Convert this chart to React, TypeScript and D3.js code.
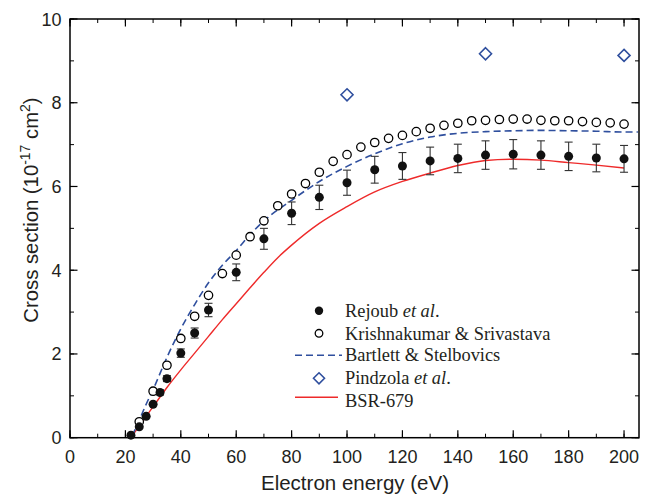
import React from "react";
import * as d3 from "d3";

const rejoubX = [22, 25, 27.5, 30, 32.5, 35, 40, 45, 50, 60, 70, 80, 90, 100, 110, 120, 130, 140, 150, 160, 170, 180, 190, 200];
const rejoubY = [0.06, 0.26, 0.51, 0.8, 1.08, 1.41, 2.02, 2.5, 3.05, 3.95, 4.75, 5.36, 5.74, 6.09, 6.4, 6.49, 6.61, 6.67, 6.75, 6.77, 6.75, 6.72, 6.68, 6.66];
const rejoubErr = [0.02, 0.03, 0.04, 0.05, 0.06, 0.07, 0.1, 0.12, 0.16, 0.2, 0.25, 0.27, 0.29, 0.3, 0.32, 0.32, 0.33, 0.34, 0.34, 0.35, 0.34, 0.34, 0.33, 0.32];

const krishX = [25, 30, 35, 40, 45, 50, 55, 60, 65, 70, 75, 80, 85, 90, 95, 100, 105, 110, 115, 120, 125, 130, 135, 140, 145, 150, 155, 160, 165, 170, 175, 180, 185, 190, 195, 200];
const krishY = [0.38, 1.11, 1.73, 2.37, 2.9, 3.4, 3.92, 4.36, 4.8, 5.18, 5.54, 5.82, 6.07, 6.34, 6.6, 6.76, 6.94, 7.05, 7.15, 7.22, 7.31, 7.39, 7.46, 7.51, 7.57, 7.58, 7.6, 7.61, 7.61, 7.58, 7.57, 7.57, 7.55, 7.53, 7.52, 7.49];

const bartlettX = [22.5, 25, 27.5, 30, 35, 40, 45, 50, 55, 60, 65, 70, 80, 90, 100, 110, 120, 130, 140, 150, 160, 170, 180, 190, 200, 205];
const bartlettY = [0.05, 0.42, 0.8, 1.15, 1.92, 2.6, 3.18, 3.7, 4.12, 4.47, 4.85, 5.18, 5.67, 6.12, 6.48, 6.78, 7.02, 7.18, 7.27, 7.31, 7.33, 7.34, 7.33, 7.32, 7.3, 7.3];

const pindzolaX = [100, 150, 200];
const pindzolaY = [8.19, 9.17, 9.13];

const bsrX = [22.5, 25, 30, 35, 40, 45, 50, 55, 60, 65, 70, 75, 80, 90, 100, 110, 120, 130, 140, 150, 160, 170, 180, 190, 200];
const bsrY = [0.05, 0.28, 0.74, 1.2, 1.62, 2.02, 2.42, 2.82, 3.2, 3.58, 3.95, 4.3, 4.6, 5.12, 5.52, 5.87, 6.12, 6.32, 6.5, 6.62, 6.65, 6.63, 6.57, 6.51, 6.44];

const xMajor = [0, 20, 40, 60, 80, 100, 120, 140, 160, 180, 200];
const yMajor = [0, 2, 4, 6, 8, 10];

const RED = "#ee2a2a";
const BLUE = "#2f4f9e";
const TXT = "#231f20";

export default function App() {
  const L = 70, R = 639, T = 19, B = 437.7;
  const x = d3.scaleLinear().domain([0, 205.4]).range([L, R]);
  const y = d3.scaleLinear().domain([0, 10]).range([B, T]);
  const xMinor = d3.range(0, 206, 10);
  const yMinor = d3.range(0, 10.1, 1);

  const line = d3.line<[number, number]>().x(d => x(d[0])).y(d => y(d[1])).curve(d3.curveMonotoneX);
  const bsrPath = line(bsrX.map((v, i) => [v, bsrY[i]]) as [number, number][]) || "";
  const bartPath = line(bartlettX.map((v, i) => [v, bartlettY[i]]) as [number, number][]) || "";

  const diamond = (cx: number, cy: number, s = 6) => `M${cx},${cy - s}L${cx + s},${cy}L${cx},${cy + s}L${cx - s},${cy}Z`;

  const tickFont = "Liberation Sans, Arial, sans-serif";
  const legFont = "Liberation Serif, Times New Roman, serif";
  const legX = 319, legTextX = 345;
  const legY = [310.7, 333.3, 355.3, 378.3, 397.3];
  const legBase = [316.7, 339.5, 361, 384, 406.5];

  return (
    <svg width={653} height={494} style={{ position: "absolute", left: 0, top: 0 }} xmlns="http://www.w3.org/2000/svg">
      <rect x={0} y={0} width={653} height={494} fill="#fff" />
      {xMinor.map(v => (
        <g key={"xm" + v}>
          <line x1={x(v)} x2={x(v)} y1={B} y2={B - 4} stroke="#000" strokeWidth={1} />
          <line x1={x(v)} x2={x(v)} y1={T} y2={T + 4} stroke="#000" strokeWidth={1} />
        </g>
      ))}
      {yMinor.map(v => (
        <g key={"ym" + v}>
          <line x1={L} x2={L + 4} y1={y(v)} y2={y(v)} stroke="#000" strokeWidth={1} />
          <line x1={R} x2={R - 4} y1={y(v)} y2={y(v)} stroke="#000" strokeWidth={1} />
        </g>
      ))}
      {xMajor.map(v => (
        <g key={"xM" + v}>
          <line x1={x(v)} x2={x(v)} y1={B} y2={B - 7.5} stroke="#000" strokeWidth={1.2} />
          <line x1={x(v)} x2={x(v)} y1={T} y2={T + 7.5} stroke="#000" strokeWidth={1.2} />
          <text x={x(v)} y={462.5} textAnchor="middle" fontFamily={tickFont} fontSize={18} fill={TXT}>{v}</text>
        </g>
      ))}
      {yMajor.map(v => (
        <g key={"yM" + v}>
          <line x1={L} x2={L + 7.5} y1={y(v)} y2={y(v)} stroke="#000" strokeWidth={1.2} />
          <line x1={R} x2={R - 7.5} y1={y(v)} y2={y(v)} stroke="#000" strokeWidth={1.2} />
          <text x={61.5} y={y(v) + 6.5} textAnchor="end" fontFamily={tickFont} fontSize={18} fill={TXT}>{v}</text>
        </g>
      ))}
      <rect x={L} y={T} width={R - L} height={B - T} fill="none" stroke="#000" strokeWidth={1.5} />

      <path d={bsrPath} fill="none" stroke={RED} strokeWidth={1.4} />
      <path d={bartPath} fill="none" stroke={BLUE} strokeWidth={1.6} strokeDasharray="7,4" />

      {rejoubX.map((v, i) => {
        const e = rejoubErr[i];
        if (e < 0.06) return null;
        const cx = x(v);
        return (
          <g key={"eb" + i} stroke="#333" strokeWidth={1.1}>
            <line x1={cx} x2={cx} y1={y(rejoubY[i] + e)} y2={y(rejoubY[i] - e)} />
            <line x1={cx - 4} x2={cx + 4} y1={y(rejoubY[i] + e)} y2={y(rejoubY[i] + e)} />
            <line x1={cx - 4} x2={cx + 4} y1={y(rejoubY[i] - e)} y2={y(rejoubY[i] - e)} />
          </g>
        );
      })}
      {krishX.map((v, i) => (
        <circle key={"k" + i} cx={x(v)} cy={y(krishY[i])} r={4.2} fill="#fff" stroke="#000" strokeWidth={1.3} />
      ))}
      {rejoubX.map((v, i) => (
        <circle key={"r" + i} cx={x(v)} cy={y(rejoubY[i])} r={4.5} fill="#111" />
      ))}
      {pindzolaX.map((v, i) => (
        <path key={"p" + i} d={diamond(x(v), y(pindzolaY[i]))} fill="#fff" stroke={BLUE} strokeWidth={1.6} />
      ))}

      {/* Legend */}
      <circle cx={legX} cy={legY[0]} r={4.2} fill="#111" />
      <circle cx={legX} cy={legY[1]} r={3.8} fill="#fff" stroke="#000" strokeWidth={1.3} />
      <line x1={295} x2={342} y1={legY[2]} y2={legY[2]} stroke={BLUE} strokeWidth={1.6} strokeDasharray="7,4" />
      <path d={diamond(legX, legY[3], 5.5)} fill="#fff" stroke={BLUE} strokeWidth={1.6} />
      <line x1={295} x2={338} y1={legY[4]} y2={legY[4]} stroke={RED} strokeWidth={1.4} />
      <g fontFamily={legFont} fontSize={18.4} fill={TXT}>
        <text x={legTextX} y={legBase[0]}>Rejoub <tspan fontStyle="italic">et al</tspan>.</text>
        <text x={legTextX} y={legBase[1]}>Krishnakumar &amp; Srivastava</text>
        <text x={legTextX} y={legBase[2]}>Bartlett &amp; Stelbovics</text>
        <text x={legTextX} y={legBase[3]}>Pindzola <tspan fontStyle="italic">et al</tspan>.</text>
        <text x={legTextX} y={legBase[4]}>BSR-679</text>
      </g>

      <text x={355} y={490} textAnchor="middle" fontFamily={tickFont} fontSize={20.5} fill={TXT}>Electron energy (eV)</text>
      <text transform={`translate(38, 210) rotate(-90)`} textAnchor="middle" fontFamily={tickFont} fontSize={20.3} fill={TXT}>
        Cross section (10<tspan dy={-8} fontSize={14}>-17</tspan><tspan dy={8}> cm</tspan><tspan dy={-8} fontSize={14}>2</tspan><tspan dy={8}>)</tspan>
      </text>
    </svg>
  );
}
